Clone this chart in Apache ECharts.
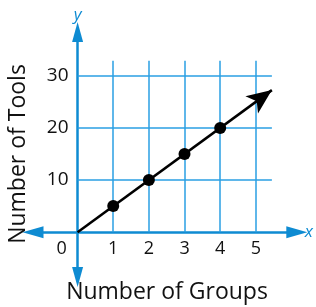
<!DOCTYPE html>
<html>
<head>
<meta charset="utf-8">
<script src="https://cdn.jsdelivr.net/npm/echarts@6/dist/echarts.min.js"></script>
<style>
  html, body { margin: 0; padding: 0; background: #fff; }
  #chart { width: 316px; height: 307px; }
</style>
</head>
<body>
<div id="chart"></div>
<script>
// data
var groups = [1, 2, 3, 4];
var tools = [5, 10, 15, 20];
var xTicks = [0, 1, 2, 3, 4, 5];
var yTicks = [10, 20, 30];
var gridX = [1, 2, 3, 4, 5];
var gridY = [10, 20, 30];
var gridXEnd = 5.45;   // grid lines stop here
var gridYEnd = 32.9;
var lineStart = [0, 0];
var lineEnd = [5.45, 27.25];

var blue = '#0e8bd2';
var gridBlue = '#2a9fe3';
var font = 'Open Sans';

var xMin = -1.25, xMax = 6.15, yMin = -8.6, yMax = 38.4;
var gLeft = 33, gRight = 19, gTop = 32, gBottom = 30;
var gW = 316 - gLeft - gRight, gH = 307 - gTop - gBottom;
// move axes to the zero lines
var xOffset = -gH * (0 - yMin) / (yMax - yMin);
var yOffset = -gW * (0 - xMin) / (xMax - xMin);

var chart = echarts.init(document.getElementById('chart'));

var gridLines = [];
for (var i = 0; i < gridX.length; i++) {
  gridLines.push([{ coord: [gridX[i], 0] }, { coord: [gridX[i], gridYEnd] }]);
}
for (var j = 0; j < gridY.length; j++) {
  gridLines.push([{ coord: [0, gridY[j]] }, { coord: [gridXEnd, gridY[j]] }]);
}

var option = {
  animation: false,
  grid: { left: gLeft, right: gRight, top: gTop, bottom: gBottom },
  xAxis: {
    type: 'value',
    min: xMin,
    max: xMax,
    position: 'bottom',
    offset: xOffset,
    name: 'x',
    nameLocation: 'end',
    nameGap: 8,
    nameTextStyle: { color: blue, fontStyle: 'italic', fontSize: 17, fontFamily: font, verticalAlign: 'middle' },
    axisLine: {
      onZero: false,
      symbol: ['triangle', 'triangle'],
      symbolSize: [12, 21],
      lineStyle: { color: blue, width: 2.5 }
    },
    axisTick: { show: false },
    splitLine: { show: false },
    axisLabel: {
      customValues: xTicks,
      margin: 8,
      fontSize: 18,
      color: '#111',
      fontFamily: font,
      formatter: function (v) { return v === 0 ? '{o|0}' : String(v); },
      rich: { o: { fontSize: 18, fontFamily: font, color: '#111', padding: [0, 32, 0, 0] } }
    }
  },
  yAxis: {
    type: 'value',
    min: yMin,
    max: yMax,
    position: 'left',
    offset: yOffset,
    name: 'y',
    nameLocation: 'end',
    nameGap: 8,
    nameTextStyle: { color: blue, fontStyle: 'italic', fontSize: 17, fontFamily: font, align: 'center' },
    axisLine: {
      onZero: false,
      symbol: ['triangle', 'triangle'],
      symbolSize: [11, 20],
      lineStyle: { color: blue, width: 2.5 }
    },
    axisTick: { show: false },
    splitLine: { show: false },
    axisLabel: {
      customValues: yTicks,
      margin: 9,
      fontSize: 19,
      color: '#111',
      fontFamily: font,
      padding: [4, 0, 0, 0]
    }
  },
  graphic: [
    {
      type: 'text', x: 167, y: 292,
      style: { text: 'Number of Groups', fontSize: 23, fontFamily: font, fill: '#111', align: 'center', verticalAlign: 'middle' }
    },
    {
      type: 'text', x: 18, y: 154, rotation: Math.PI / 2,
      style: { text: 'Number of Tools', fontSize: 23, fontFamily: font, fill: '#111', align: 'center', verticalAlign: 'middle' }
    }
  ],
  series: [
    {
      type: 'line',
      data: [],
      silent: true,
      z: 1,
      markLine: {
        silent: true,
        symbol: ['none', 'none'],
        label: { show: false },
        lineStyle: { color: gridBlue, width: 1.5, type: 'solid' },
        emphasis: { disabled: true },
        data: gridLines
      }
    },
    {
      type: 'line',
      data: [],
      silent: true,
      z: 5,
      markLine: {
        silent: true,
        symbol: ['none', 'arrow'],
        symbolSize: [16, 25],
        label: { show: false },
        lineStyle: { color: '#000', width: 2.5, type: 'solid' },
        itemStyle: { color: '#000' },
        emphasis: { disabled: true },
        data: [[{ coord: lineStart }, { coord: lineEnd }]]
      }
    },
    {
      type: 'scatter',
      z: 6,
      symbolSize: 12,
      itemStyle: { color: '#000', opacity: 1 },
      data: groups.map(function (g, k) { return [g, tools[k]]; })
    }
  ]
};

chart.setOption(option);
</script>
</body>
</html>
